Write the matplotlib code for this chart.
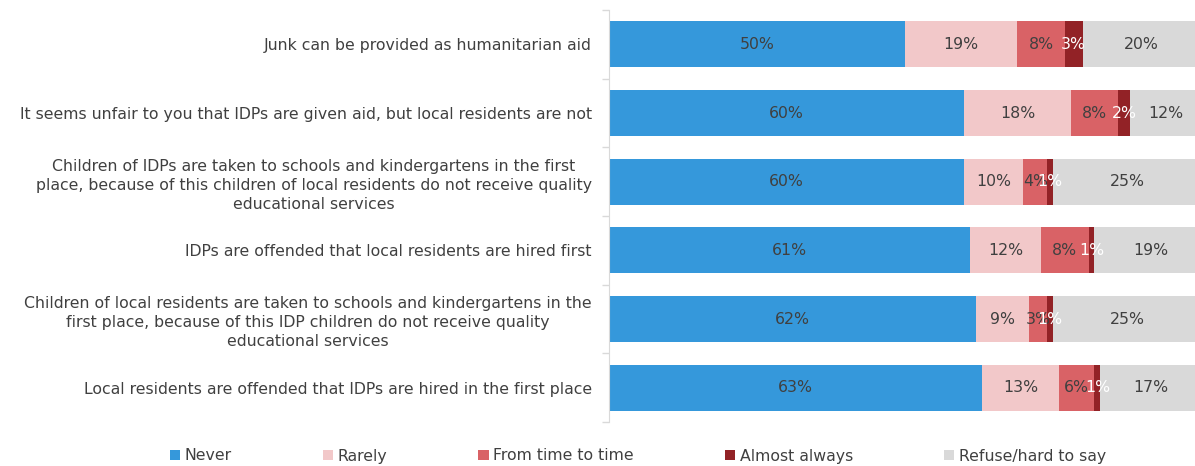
import matplotlib
matplotlib.use("Agg")
import matplotlib.pyplot as plt
import numpy as np

categories = [
    "Junk can be provided as humanitarian aid",
    "It seems unfair to you that IDPs are given aid, but local residents are not",
    "Children of IDPs are taken to schools and kindergartens in the first\n"
    "place, because of this children of local residents do not receive quality\n"
    "educational services",
    "IDPs are offended that local residents are hired first",
    "Children of local residents are taken to schools and kindergartens in the\n"
    "first place, because of this IDP children do not receive quality\n"
    "educational services",
    "Local residents are offended that IDPs are hired in the first place",
]
series_names = ["Never", "Rarely", "From time to time", "Almost always", "Refuse/hard to say"]
never = [50, 60, 60, 61, 62, 63]
rarely = [19, 18, 10, 12, 9, 13]
from_time = [8, 8, 4, 8, 3, 6]
almost = [3, 2, 1, 1, 1, 1]
refuse = [20, 12, 25, 19, 25, 17]

colors = ["#3598DB", "#F2C8C9", "#D96266", "#922226", "#D9D9D9"]
label_colors = ["#404040", "#404040", "#404040", "white", "#404040"]

plt.rcParams["font.family"] = ["DejaVu Sans"]
FS = 11.3

fig = plt.figure(figsize=(11.95, 4.66), dpi=100)
# plot area runs a little past the right edge of the canvas
ax = fig.add_axes([609 / 1195, 1 - 422 / 466, 592 / 1195, (422 - 10) / 466])

y = np.arange(len(categories))
left = np.zeros(len(categories))
for name, vals, col, lcol in zip(series_names, [never, rarely, from_time, almost, refuse],
                                 colors, label_colors):
    vals = np.array(vals, dtype=float)
    bars = ax.barh(y, vals, left=left, height=0.67, color=col, label=name, edgecolor="none")
    for b, v in zip(bars, vals):
        ax.text(b.get_x() + b.get_width() / 2, b.get_y() + b.get_height() / 2,
                f"{int(v)}%", ha="center", va="center", color=lcol, fontsize=FS)
    left += vals

ax.set_xlim(0, 100)
ax.set_ylim(len(categories) - 0.5, -0.5)
ax.set_yticks(y)
ax.set_yticklabels(categories, fontsize=FS, color="#404040", ha="right", multialignment="center")
for t in ax.get_yticklabels():
    t.set_linespacing(1.35)
ax.tick_params(axis="y", which="major", length=0, pad=12.5)
ax.set_yticks(np.arange(-0.5, len(categories)), minor=True)
ax.tick_params(axis="y", which="minor", length=5, color="#D9D9D9", width=1)
ax.set_xticks([])
for s in ["top", "right", "bottom"]:
    ax.spines[s].set_visible(False)
ax.spines["left"].set_color("#D9D9D9")

handles, labels = ax.get_legend_handles_labels()
fig.legend(handles, labels, loc="center", bbox_to_anchor=(638 / 1195, 1 - 456 / 466), ncol=5,
           frameon=False, fontsize=FS, handlelength=0.65, handleheight=0.65,
           handletextpad=0.3, columnspacing=5.8, labelcolor="#404040")

fig.savefig("out.png", dpi=100)
